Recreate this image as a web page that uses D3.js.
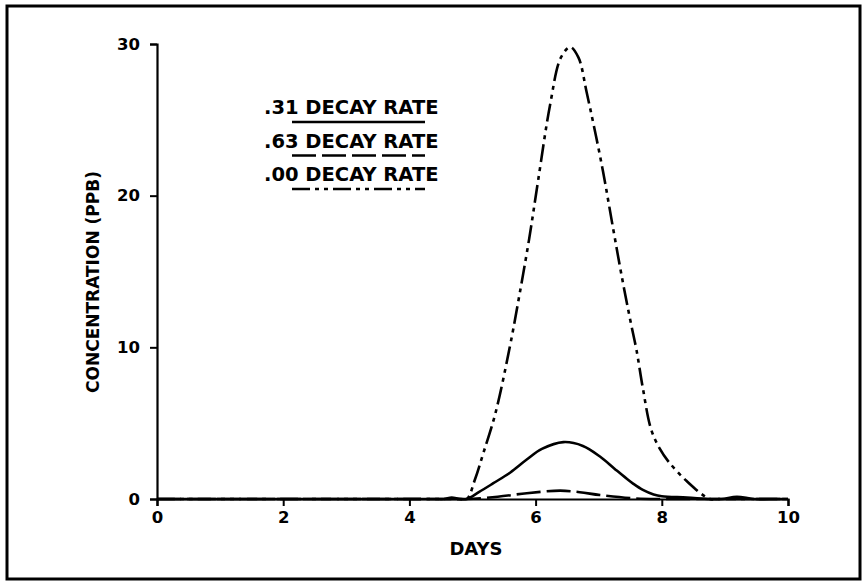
<!DOCTYPE html>
<html>
<head>
<meta charset="utf-8">
<script src="https://cdn.jsdelivr.net/npm/d3@7"></script>
<style>
  body { margin: 0; background: #fff; }
  text { font-family: "DejaVu Sans", sans-serif; font-weight: bold; fill: #000; }
</style>
</head>
<body>
<svg id="chart"></svg>
<script>
// data (days vs concentration in ppb)
let days31 = [0, 2, 4, 4.4, 4.55, 4.67, 4.8, 4.91, 5.1, 5.33, 5.6, 5.86, 6.1, 6.44, 6.75, 7.02, 7.25, 7.44, 7.55, 7.7, 7.87, 8.0, 8.4, 8.76, 8.95, 9.19, 9.45, 9.7, 10];
let conc31 = [0, 0, 0, 0, 0, 0.1, 0, 0, 0.45, 1.04, 1.75, 2.6, 3.3, 3.75, 3.5, 2.8, 2.0, 1.35, 1.0, 0.6, 0.3, 0.18, 0.1, 0, 0, 0.15, 0, 0, 0];

let days63 = [0, 2, 4, 4.6, 4.91, 5.4, 5.86, 6.39, 6.7, 7.02, 7.54, 8.0, 8.5, 9, 10];
let conc63 = [0, 0, 0, 0, 0, 0.15, 0.38, 0.55, 0.45, 0.26, 0.05, 0, 0, 0, 0];

let days00 = [0, 2, 4, 4.6, 4.8, 4.91, 5.04, 5.17, 5.36, 5.59, 5.75, 5.9, 6.04, 6.23, 6.4, 6.55, 6.68, 6.81, 7.05, 7.23, 7.36, 7.5, 7.6, 7.7, 7.83, 7.97, 8.1, 8.39, 8.76, 8.9, 9.2, 10];
let conc00 = [0, 0, 0, 0, 0, 0, 1.3, 3.0, 5.6, 10.0, 13.6, 17.2, 21.0, 26.0, 29.1, 29.8, 29.1, 26.8, 22.0, 17.8, 14.8, 11.8, 9.8, 7.3, 4.6, 3.3, 2.5, 1.2, 0, 0, 0, 0];

let legendLabels = ['.31 DECAY RATE', '.63 DECAY RATE', '.00 DECAY RATE'];
let xTicks = [0, 2, 4, 6, 8, 10];
let yTicks = [0, 10, 20, 30];

const width = 865;
const height = 582;

let svg = d3.select('#chart')
    .attr('width', width)
    .attr('height', height);

// outer frame
svg.append('rect')
    .attr('x', 7)
    .attr('y', 6)
    .attr('width', 853)
    .attr('height', 573)
    .attr('fill', 'none')
    .attr('stroke', '#000')
    .attr('stroke-width', 3);

let xScale = d3.scaleLinear().domain([0, 10]).range([157, 788]);
let yScale = d3.scaleLinear().domain([0, 30]).range([499, 44]);

let xAxis = d3.axisBottom(xScale).tickValues(xTicks).tickFormat(d3.format('d')).tickSize(7).tickPadding(5);
let yAxis = d3.axisLeft(yScale).tickValues(yTicks).tickFormat(d3.format('d')).tickSize(7).tickPadding(10);

let gx = svg.append('g')
    .attr('transform', 'translate(0,' + yScale(0) + ')')
    .call(xAxis);

let gy = svg.append('g')
    .attr('transform', 'translate(' + xScale(0) + ',0)')
    .call(yAxis);

[gx, gy].forEach((g) => {
    g.select('.domain').attr('stroke-width', 2.2);
    g.selectAll('.tick line').attr('stroke-width', 2);
    g.selectAll('.tick text')
        .attr('font-family', '"DejaVu Sans", sans-serif')
        .attr('font-weight', 'bold')
        .attr('font-size', 16.5);
});

svg.append('text')
    .attr('x', 476)
    .attr('y', 555)
    .attr('text-anchor', 'middle')
    .attr('font-size', 18)
    .text('DAYS');

svg.append('text')
    .attr('transform', 'translate(99,282) rotate(-90)')
    .attr('text-anchor', 'middle')
    .attr('font-size', 17)
    .text('CONCENTRATION (PPB)');

let line = d3.line()
    .x((d) => xScale(d[0]))
    .y((d) => yScale(d[1]))
    .curve(d3.curveCatmullRom.alpha(0.5));

let series = [
    { pts: d3.zip(days31, conc31), dash: null },
    { pts: d3.zip(days63, conc63), dash: '24,6' },
    { pts: d3.zip(days00, conc00), dash: '18,5,4,5,4,5' }
];

svg.selectAll('path.curve')
    .data(series)
    .enter()
    .append('path')
    .attr('class', 'curve')
    .attr('d', (s) => line(s.pts))
    .attr('fill', 'none')
    .attr('stroke', '#000')
    .attr('stroke-width', 2.6)
    .attr('stroke-dasharray', (s) => s.dash);

// legend
let legend = svg.selectAll('g.legend')
    .data(legendLabels)
    .enter()
    .append('g')
    .attr('class', 'legend')
    .attr('transform', (d, i) => 'translate(0,' + (i * 33.5) + ')');

legend.append('text')
    .attr('x', 264)
    .attr('y', 114)
    .attr('font-size', 19.5)
    .text((d) => d);

legend.append('line')
    .attr('x1', 292)
    .attr('x2', 425)
    .attr('y1', 122)
    .attr('y2', 122)
    .attr('stroke', '#000')
    .attr('stroke-width', 2.6)
    .attr('stroke-dasharray', (d, i) => series[i].dash);
</script>
</body>
</html>
